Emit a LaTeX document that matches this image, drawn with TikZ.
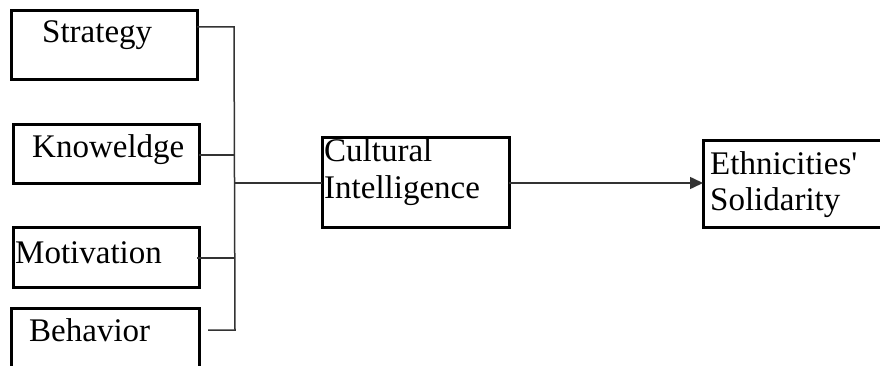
\documentclass[tikz,border=0pt]{standalone}
\usepackage{fontspec}
\setmainfont{Liberation Serif}
\usetikzlibrary{arrows.meta}
\begin{document}
\begin{tikzpicture}[x=1pt,y=-1pt,
  box/.style={draw=black,line width=3pt},
  lbl/.style={anchor=base west,inner sep=0pt,font=\fontsize{33}{36}\selectfont},
  link/.style={draw=black!80,line width=1.5pt}]
\clip (0,0) rectangle (880,366);
\fill[white] (0,0) rectangle (880,366);
% factor boxes
\draw[box] (11,11) rectangle (197,80);
\draw[box] (13,125) rectangle (199,184);
\draw[box] (13,227) rectangle (199,287);
\draw[box] (11,308) rectangle (199,380);
\node[lbl] (strategy) at (42,43) {Strategy};
\node[lbl] (knowledge) at (32,158) {Knoweldge};
\node[lbl] (motivation) at (15,263) {Motivation};
\node[lbl] (behavior) at (29,341) {Behavior};
% central and outcome boxes
\draw[box] (322,138) rectangle (509,227);
\draw[box] (703,141) rectangle (890,227);
\node[lbl] (ci1) at (324,162) {Cultural};
\node[lbl] (ci2) at (324,198) {Intelligence};
\node[lbl] (es1) at (710,175) {Ethnicities\textquotesingle};
\node[lbl] (es2) at (710,210) {Solidarity};
% bracket joining the four factors
\coordinate (s) at (197,27);
\coordinate (k) at (199,155);
\coordinate (m) at (197,258);
\coordinate (b) at (208,330);
\coordinate (top) at (234,27);
\coordinate (bot) at (235,330);
\coordinate (join) at (235,183);
\coordinate (ciw) at (322,183);
\coordinate (cie) at (509,183);
\coordinate (esw) at (703,183);
\draw[link] (s) -- (top) -- (bot) -- (b);
\draw[link] (k) -- (k -| top);
\draw[link] (m) -- (m -| top);
\draw[link] (join) -- (ciw);
\draw[link,-{Triangle[length=13pt,width=12pt]}] (cie) -- (esw);
\end{tikzpicture}
\end{document}
